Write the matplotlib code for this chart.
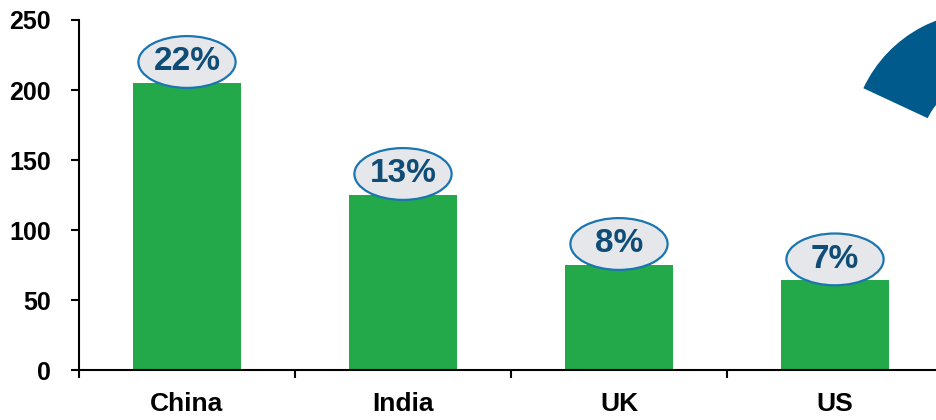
import matplotlib.pyplot as plt
import numpy as np
from matplotlib.patches import Ellipse, Wedge
from matplotlib.transforms import IdentityTransform

# Datos del grafico
paises = ["China", "India", "UK", "US"]
valores = [205, 125, 75, 64]
etiquetas = ["22%", "13%", "8%", "7%"]
yticks = [0, 50, 100, 150, 200, 250]

verde = "#23a949"
azul_oscuro = "#0f4d77"
azul_borde = "#1a75b0"
gris_elipse = "#e6e7ea"
azul_sector = "#005b8c"

fuente = ["Liberation Sans", "DejaVu Sans"]

fig = plt.figure(figsize=(9.37, 4.2), dpi=100)
ax = fig.add_axes([79 / 937, 50 / 420, 864 / 937, 350 / 420])

x = np.arange(len(paises))
ax.bar(x, valores, width=0.5, color=verde, zorder=2)

# Elipses con el porcentaje encima de cada barra
for xi, v, txt in zip(x, valores, etiquetas):
    yc = v + 15
    e = Ellipse((xi, yc), width=0.45, height=37, facecolor=gris_elipse,
                edgecolor=azul_borde, linewidth=1.6, zorder=3, clip_on=False)
    ax.add_patch(e)
    ax.text(xi, yc, txt, ha="center", va="center", fontsize=24,
            fontweight="bold", color=azul_oscuro, zorder=4, family=fuente)

ax.set_xlim(-0.5, len(paises) - 0.5)
ax.set_ylim(0, 250)
ax.set_yticks(yticks)
ax.set_yticklabels([str(t) for t in yticks], fontsize=18, fontweight="bold",
                   family=fuente)

# Marcas del eje x entre categorias, etiquetas en el centro
ax.set_xticks(np.arange(len(paises) + 1) - 0.5)
ax.set_xticklabels([])
ax.set_xticks(x, minor=True)
ax.set_xticklabels(paises, minor=True, fontsize=19, fontweight="bold",
                   family=fuente)
ax.tick_params(axis="x", which="minor", length=0, pad=16)
ax.tick_params(axis="x", which="major", direction="out", length=6, width=1.5)
ax.tick_params(axis="y", direction="out", length=6, width=1.5, pad=14)

for s in ["top", "right"]:
    ax.spines[s].set_visible(False)
for s in ["left", "bottom"]:
    ax.spines[s].set_linewidth(1.5)

# Sector azul en la esquina superior derecha
sector = Wedge((983, 276), 132, 80, 155, width=71, facecolor=azul_sector,
               edgecolor="none", transform=IdentityTransform())
fig.add_artist(sector)

fig.savefig("out.png", dpi=100)
